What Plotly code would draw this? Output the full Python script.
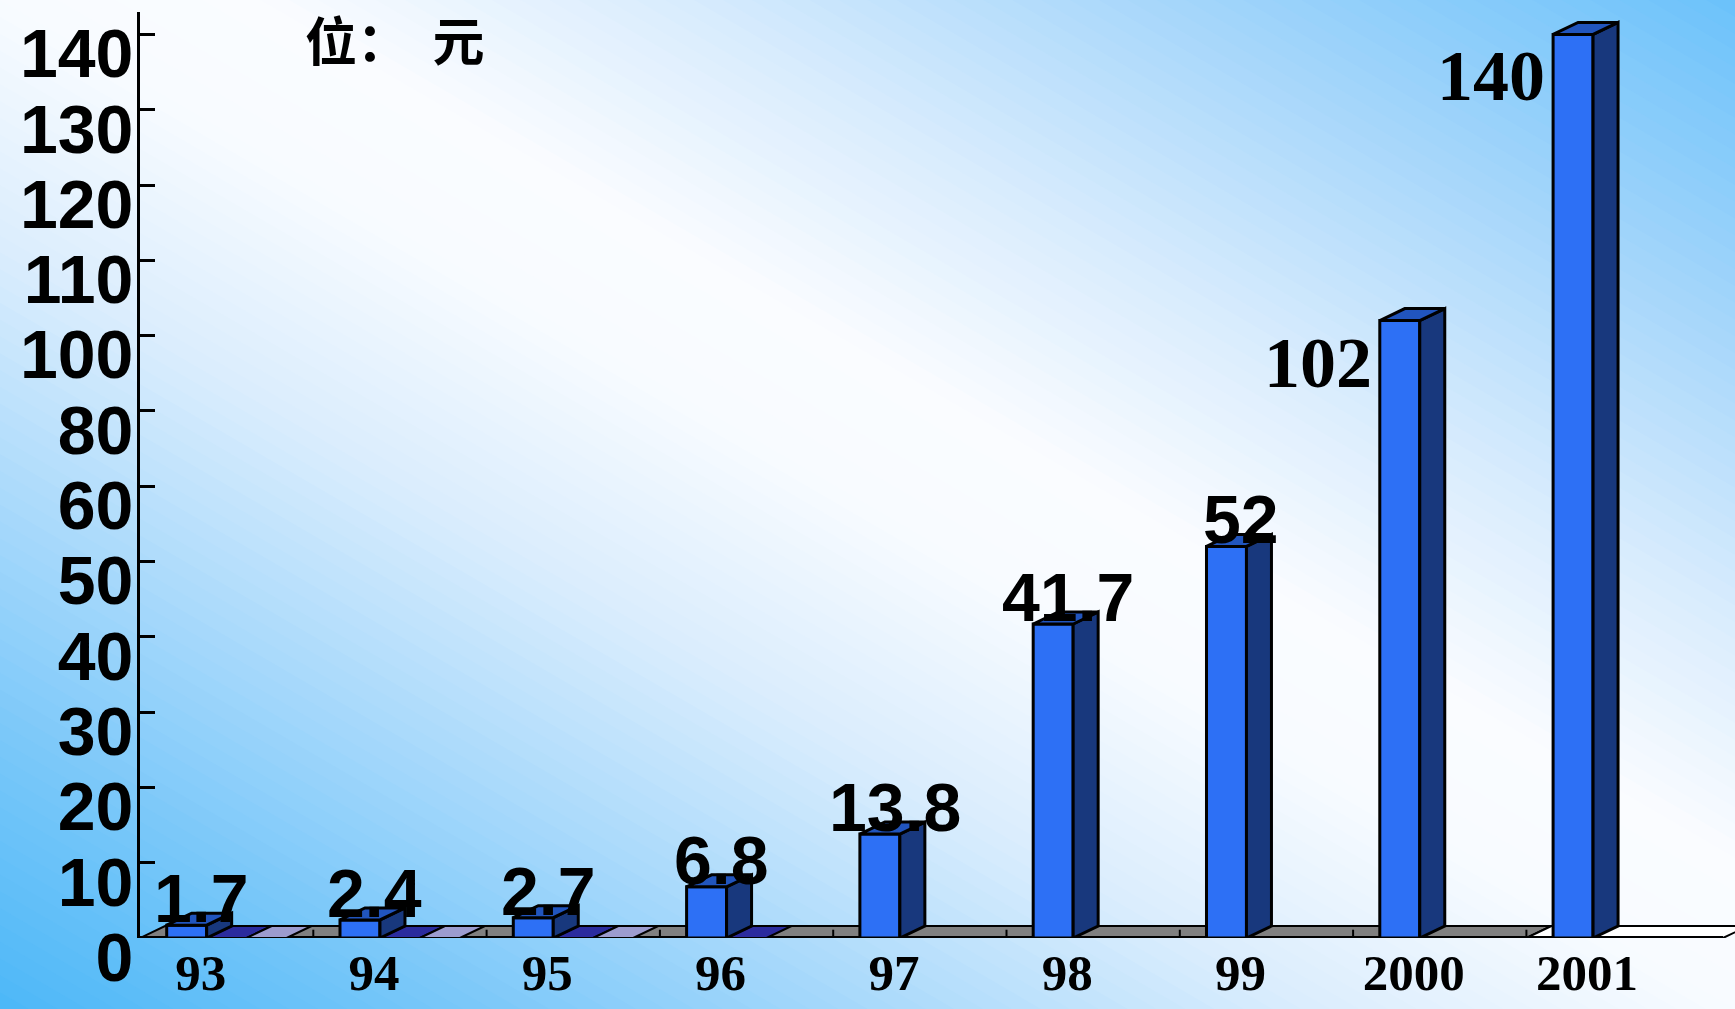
import numpy as np
import plotly.graph_objects as go

# ---------------- data ----------------
years = ["93", "94", "95", "96", "97", "98", "99", "2000", "2001"]
values = [1.7, 2.4, 2.7, 6.8, 13.8, 41.7, 52, 102, 140]
value_labels = ["1.7", "2.4", "2.7", "6.8", "13.8", "41.7", "52", "102", "140"]
series2_values = [0, 0, 0, 0, None, None, None, None, None]
series3_values = [0, 0, 0, None, None, None, None, None, None]
y_tick_labels = [0, 10, 20, 30, 40, 50, 60, 80, 100, 110, 120, 130, 140]
unit_text = "位：  元"

# ---------------- layout geometry ----------------
W, H = 1735, 1009
AX_X = 140
BASE_Y = 938
TOP_Y = 12
CAT_W = 173.3
TICK_H = 75.3
DEPTH_X, DEPTH_Y = 25, 12

x_dom = [AX_X / W, 1]
y_dom = [(H - BASE_Y) / H, (H - TOP_Y) / H]
x_range = [-0.5, -0.5 + (W - AX_X) / CAT_W]
y_range = [0, (BASE_Y - TOP_Y) / TICK_H]
dx = DEPTH_X / CAT_W
dy = DEPTH_Y / TICK_H

tick_idx = np.arange(len(y_tick_labels))


def to_axis(v):
    return float(np.interp(v, y_tick_labels, tick_idx))


n = len(years)
cat = np.arange(n)
group_w = 0.692
slot = group_w / 3
bar_x0 = cat - group_w / 2
bar_x1 = bar_x0 + slot
bar_c = (bar_x0 + bar_x1) / 2
heights = [to_axis(v) for v in values]

FRONT = "#2D70F5"
SIDE = "#18387D"
TOP = "#2155BE"
S2 = "#2B2B9E"
S3 = "#9C9CCF"
FLOOR = "#808080"


def poly(pts):
    return "M " + " L ".join(f"{x:.5f},{y:.5f}" for x, y in pts) + " Z"


shapes = []

# background gradient (diagonal bands)
stops_q = [-1.0, -0.75, -0.5, -0.25, 0.0, 0.15, 0.4, 0.7, 1.0]
stops_c = [(77, 184, 248), (118, 198, 249), (168, 217, 251), (218, 237, 253),
           (248, 251, 255), (250, 252, 255), (215, 235, 253), (160, 212, 250),
           (108, 194, 250)]
NB = 120
qs = np.linspace(-1, 1, NB + 1)
qs[0] = -1.2
qs[-1] = 1.2
for k in range(NB):
    q0, q1 = qs[k], qs[k + 1] + 0.004
    qm = min(max((qs[k] + qs[k + 1]) / 2, -1), 1)
    col = [int(round(np.interp(qm, stops_q, [c[j] for c in stops_c]))) for j in range(3)]
    c0, c1 = 1 + q0, 1 + q1
    shapes.append(dict(type="path", xref="paper", yref="paper", layer="below",
                       path=poly([(-1, c0 + 1), (2, c0 - 2), (2, c1 - 2), (-1, c1 + 1)]),
                       fillcolor=f"rgb({col[0]},{col[1]},{col[2]})", line=dict(width=0)))

# floor
grey_end = n - 1.5
floor_end = x_range[1] - 12 / CAT_W
shapes.append(dict(type="path", xref="x", yref="y", layer="below",
                   path=poly([(-0.5, 0), (grey_end, 0), (grey_end + dx, dy), (-0.5 + dx, dy)]),
                   fillcolor=FLOOR, line=dict(color="black", width=2)))
shapes.append(dict(type="path", xref="x", yref="y", layer="below",
                   path=poly([(grey_end, 0), (floor_end, 0), (floor_end + dx, dy), (grey_end + dx, dy)]),
                   fillcolor="white", line=dict(color="black", width=2)))
shapes.append(dict(type="line", xref="x", yref="y", layer="below",
                   x0=-0.5, x1=floor_end, y0=0, y1=0, line=dict(color="black", width=4)))
for b in cat[:-1] + 0.5:
    shapes.append(dict(type="line", xref="x", yref="y", layer="below",
                       x0=b, x1=b, y0=0, y1=0.11, line=dict(color="black", width=2)))

# flat (zero) bars of the other series
for i in range(n):
    for vals, off, col in ((series2_values, 1, S2), (series3_values, 2, S3)):
        if vals[i] is not None:
            x0 = bar_x0[i] + off * slot
            x1 = x0 + slot
            h = to_axis(vals[i])
            shapes.append(dict(type="path", xref="x", yref="y", layer="below",
                               path=poly([(x0, h), (x1, h), (x1 + dx, h + dy), (x0 + dx, h + dy)]),
                               fillcolor=col, line=dict(color="black", width=2)))

# 3D side & top faces of the main bars
for i in range(n):
    x0, x1, h = bar_x0[i], bar_x1[i], heights[i]
    shapes.append(dict(type="path", xref="x", yref="y", layer="above",
                       path=poly([(x1, 0), (x1 + dx, dy), (x1 + dx, h + dy), (x1, h)]),
                       fillcolor=SIDE, line=dict(color="black", width=3)))
    shapes.append(dict(type="path", xref="x", yref="y", layer="above",
                       path=poly([(x0, h), (x0 + dx, h + dy), (x1 + dx, h + dy), (x1, h)]),
                       fillcolor=TOP, line=dict(color="black", width=3)))

fig = go.Figure()
fig.add_trace(go.Bar(x=bar_c, y=heights, width=slot, base=0,
                     marker=dict(color=FRONT, line=dict(color="black", width=3)),
                     hoverinfo="skip", showlegend=False))

annotations = []
for i in range(n):
    if values[i] < 100:
        annotations.append(dict(x=bar_c[i], y=heights[i], xref="x", yref="y",
                                text=value_labels[i], showarrow=False,
                                xanchor="center", yanchor="bottom", xshift=15, yshift=-13,
                                font=dict(family="Liberation Sans, Arial", size=68,
                                          color="black", weight="bold")))
    else:
        annotations.append(dict(x=bar_x0[i], y=heights[i], xref="x", yref="y",
                                text=value_labels[i], showarrow=False,
                                xanchor="right", yanchor="top", xshift=-6, yshift=0,
                                font=dict(family="Liberation Serif, Times New Roman", size=72,
                                          color="black", weight="bold")))
annotations.append(dict(x=304 / W, y=1, xref="paper", yref="paper",
                        text=unit_text, showarrow=False, xanchor="left", yanchor="top",
                        borderpad=0,
                        font=dict(family="Noto Sans CJK SC", size=52, color="black",
                                  weight="bold")))

fig.update_layout(
    width=W, height=H,
    margin=dict(l=0, r=0, t=0, b=0, pad=0, autoexpand=False),
    paper_bgcolor="white",
    plot_bgcolor="rgba(0,0,0,0)",
    shapes=shapes,
    annotations=annotations,
    showlegend=False,
    xaxis=dict(domain=x_dom, range=x_range, showgrid=False, zeroline=False,
               automargin=False,
               showline=False, ticks="", tickvals=bar_c, ticktext=years,
               ticklabelshift=14, ticklabelstandoff=0,
               tickfont=dict(family="Liberation Serif, Times New Roman", size=51,
                             color="black", weight="bold")),
    yaxis=dict(domain=y_dom, range=y_range, showgrid=False, zeroline=False,
               automargin=False,
               showline=True, linecolor="black", linewidth=3,
               ticks="inside", ticklen=15, tickwidth=3, tickcolor="black",
               tickvals=tick_idx, ticktext=[str(v) for v in y_tick_labels],
               ticklabelshift=19, ticklabelstandoff=-10,
               tickfont=dict(family="Liberation Sans, Arial", size=68,
                             color="black", weight="bold")),
)

fig.write_html("out.html", config={"displayModeBar": False},
               post_script="document.body.style.margin='0';document.body.style.overflow='hidden';")
